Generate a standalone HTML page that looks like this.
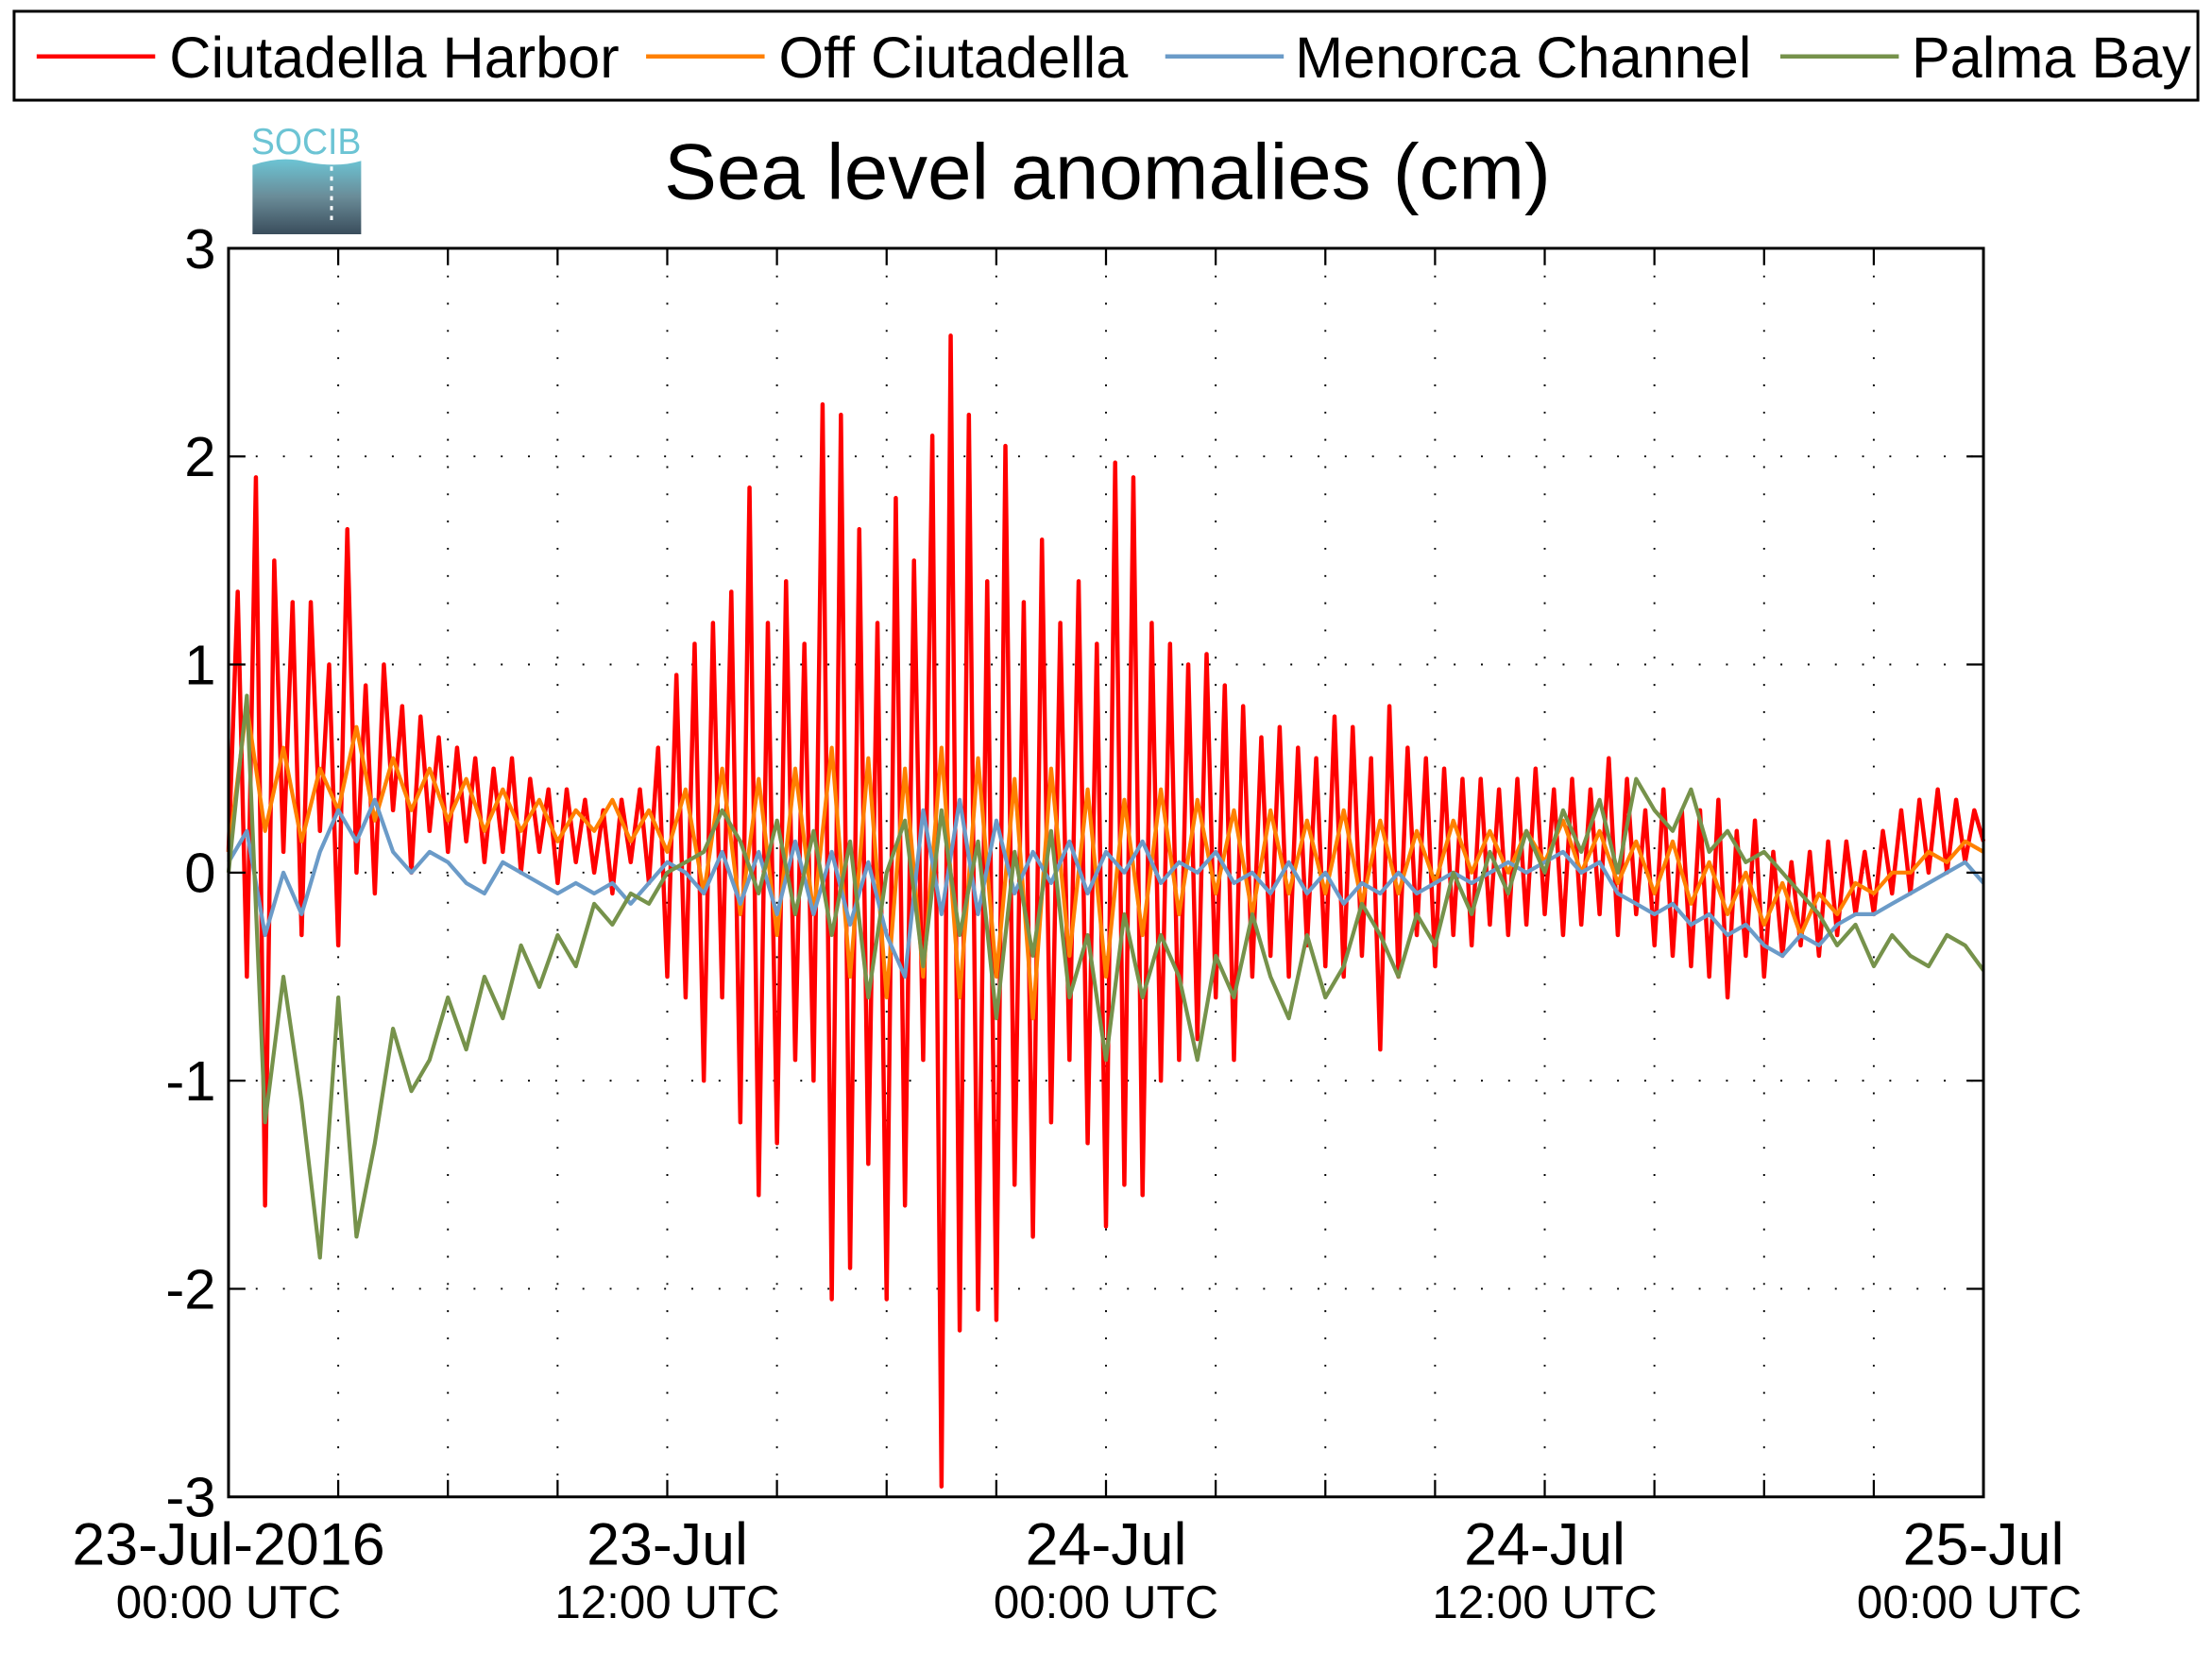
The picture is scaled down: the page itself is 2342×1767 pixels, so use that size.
<!DOCTYPE html>
<html><head><meta charset="utf-8"><style>
html,body{margin:0;padding:0;background:#fff;}
svg{display:block;font-family:"Liberation Sans",sans-serif;}
</style></head><body>
<svg id="chart" width="2342" height="1767" viewBox="0 0 1568 1183" preserveAspectRatio="none" xmlns="http://www.w3.org/2000/svg">
<g>
<rect x="10" y="8" width="1548" height="63" fill="#fff" stroke="#000" stroke-width="2"/>
<line x1="26" y1="40" x2="110" y2="40" stroke="#ff0000" stroke-width="3"/>
<text x="120" y="55" font-size="41">Ciutadella Harbor</text>
<line x1="458" y1="40" x2="542" y2="40" stroke="#ff8000" stroke-width="3"/>
<text x="552" y="55" font-size="41">Off Ciutadella</text>
<line x1="826" y1="40" x2="910" y2="40" stroke="#6b9bc8" stroke-width="3"/>
<text x="918" y="55" font-size="41">Menorca Channel</text>
<line x1="1262" y1="40" x2="1346" y2="40" stroke="#76924b" stroke-width="3"/>
<text x="1355" y="55" font-size="41">Palma Bay</text>
</g>
<g>
<defs><linearGradient id="lg" x1="0" y1="0" x2="0" y2="1"><stop offset="0" stop-color="#6cc4d4"/><stop offset="0.5" stop-color="#6a8c98"/><stop offset="1" stop-color="#3a4d5c"/></linearGradient></defs>
<text x="178" y="109" font-size="26" fill="#6cc4d4" textLength="78" lengthAdjust="spacingAndGlyphs">SOCIB</text>
<path d="M179 117 Q200 110 218 115 Q240 119 256 114 L256 166 L179 166 Z" fill="url(#lg)"/>
<line x1="235" y1="118" x2="235" y2="158" stroke="#fff" stroke-width="2" stroke-dasharray="3,4"/>
</g>
<text x="785" y="141" font-size="56" text-anchor="middle">Sea level anomalies (cm)</text>
<g id="grid"></g>
<g id="series"></g>
<rect x="162" y="176" width="1244" height="885" fill="none" stroke="#000" stroke-width="2"/>
<g id="axes"></g>
</svg>
<script>
const yTicks=[3,2,1,0,-1,-2,-3];
const xLabelHours=[0,12,24,36,48];
const xLabelDates=["23-Jul-2016","23-Jul","24-Jul","24-Jul","25-Jul"];
const xLabelTimes=["00:00 UTC","12:00 UTC","00:00 UTC","12:00 UTC","00:00 UTC"];
const redStep=0.25;
const ciutadellaHarbor=[0.1,1.35,-0.5,1.9,-1.6,1.5,0.1,1.3,-0.3,1.3,0.2,1.0,-0.35,1.65,0.0,0.9,-0.1,1.0,0.3,0.8,0.0,0.75,0.2,0.65,0.1,0.6,0.15,0.55,0.05,0.5,0.1,0.55,0.0,0.45,0.1,0.4,-0.05,0.4,0.05,0.35,0.0,0.3,-0.1,0.35,0.05,0.4,-0.05,0.6,-0.5,0.95,-0.6,1.1,-1.0,1.2,-0.6,1.35,-1.2,1.85,-1.55,1.2,-1.3,1.4,-0.9,1.1,-1.0,2.25,-2.05,2.2,-1.9,1.65,-1.4,1.2,-2.05,1.8,-1.6,1.5,-0.9,2.1,-2.95,2.58,-2.2,2.2,-2.1,1.4,-2.15,2.05,-1.5,1.3,-1.75,1.6,-1.2,1.2,-0.9,1.4,-1.3,1.1,-1.7,1.97,-1.5,1.9,-1.55,1.2,-1.0,1.1,-0.9,1.0,-0.8,1.05,-0.6,0.9,-0.9,0.8,-0.5,0.65,-0.4,0.7,-0.5,0.6,-0.35,0.55,-0.45,0.75,-0.5,0.7,-0.4,0.55,-0.85,0.8,-0.5,0.6,-0.3,0.55,-0.45,0.5,-0.3,0.45,-0.35,0.45,-0.25,0.4,-0.3,0.45,-0.25,0.5,-0.2,0.4,-0.3,0.45,-0.25,0.4,-0.2,0.55,-0.3,0.45,-0.2,0.3,-0.35,0.4,-0.4,0.3,-0.45,0.3,-0.5,0.35,-0.6,0.2,-0.4,0.25,-0.5,0.1,-0.4,0.05,-0.35,0.1,-0.4,0.15,-0.3,0.15,-0.2,0.1,-0.2,0.2,-0.1,0.3,-0.1,0.35,0.0,0.4,0.0,0.35,0.05,0.3,0.15];
const slowStep=0.5;
const offCiutadella=[0.1,0.8,0.2,0.6,0.15,0.5,0.3,0.7,0.25,0.55,0.3,0.5,0.25,0.45,0.2,0.4,0.2,0.35,0.15,0.3,0.2,0.35,0.15,0.3,0.1,0.4,-0.1,0.5,-0.2,0.45,-0.3,0.5,-0.2,0.6,-0.5,0.55,-0.6,0.5,-0.5,0.6,-0.6,0.55,-0.5,0.45,-0.7,0.5,-0.4,0.4,-0.5,0.35,-0.3,0.4,-0.2,0.35,-0.1,0.3,-0.2,0.3,-0.1,0.25,-0.1,0.3,-0.15,0.25,-0.1,0.2,-0.05,0.25,0.0,0.2,0.0,0.2,0.05,0.25,0.0,0.2,-0.05,0.15,-0.1,0.15,-0.15,0.05,-0.2,0.0,-0.25,-0.05,-0.3,-0.1,-0.2,-0.05,-0.1,0.0,0.0,0.1,0.05,0.15,0.1];
const menorcaChannel=[0.05,0.2,-0.3,0.0,-0.2,0.1,0.3,0.15,0.35,0.1,0.0,0.1,0.05,-0.05,-0.1,0.05,0.0,-0.05,-0.1,-0.05,-0.1,-0.05,-0.15,-0.05,0.05,0.0,-0.1,0.1,-0.15,0.1,-0.2,0.15,-0.2,0.1,-0.25,0.05,-0.3,-0.5,0.3,-0.2,0.35,-0.2,0.25,-0.1,0.1,-0.05,0.15,-0.1,0.1,0.0,0.15,-0.05,0.05,0.0,0.1,-0.05,0.0,-0.1,0.05,-0.1,0.0,-0.15,-0.05,-0.1,0.0,-0.1,-0.05,0.0,-0.05,0.0,0.05,0.0,0.05,0.1,0.0,0.05,-0.1,-0.15,-0.2,-0.15,-0.25,-0.2,-0.3,-0.25,-0.35,-0.4,-0.3,-0.35,-0.25,-0.2,-0.2,-0.15,-0.1,-0.05,0.0,0.05,-0.05];
const palmaBay=[0.0,0.85,-1.2,-0.5,-1.1,-1.85,-0.6,-1.75,-1.3,-0.75,-1.05,-0.9,-0.6,-0.85,-0.5,-0.7,-0.35,-0.55,-0.3,-0.45,-0.15,-0.25,-0.1,-0.15,0.0,0.05,0.1,0.3,0.15,-0.1,0.25,-0.2,0.2,-0.3,0.15,-0.6,0.0,0.25,-0.45,0.3,-0.3,0.15,-0.7,0.1,-0.4,0.2,-0.6,-0.3,-0.9,-0.2,-0.6,-0.3,-0.5,-0.9,-0.4,-0.6,-0.2,-0.5,-0.7,-0.3,-0.6,-0.45,-0.15,-0.3,-0.5,-0.2,-0.35,0.0,-0.2,0.1,-0.1,0.2,0.0,0.3,0.1,0.35,0.0,0.45,0.3,0.2,0.4,0.1,0.2,0.05,0.1,0.0,-0.1,-0.2,-0.35,-0.25,-0.45,-0.3,-0.4,-0.45,-0.3,-0.35,-0.47];

const NS="http://www.w3.org/2000/svg";
const L=162,R=1406,T=176,B=1061;
function xScale(h){return L+(h/48)*(R-L);}
function yScale(v){return T+(3-v)/6*(B-T);}
function mk(tag,attrs,parent){const e=document.createElementNS(NS,tag);for(const k in attrs)e.setAttribute(k,attrs[k]);parent.appendChild(e);return e;}
const grid=document.getElementById('grid'),axes=document.getElementById('axes'),series=document.getElementById('series');
for(let h=3;h<48;h+=3){
  const x=xScale(h);
  const g=mk('line',{x1:x,y1:T,x2:x,y2:B,stroke:'#000','stroke-width':1.3,'stroke-dasharray':'1.3,18'},grid);
  
  
  const t1=mk('line',{x1:x,y1:T,x2:x,y2:T+12,stroke:'#000','stroke-width':1.5},axes);
  
  
  const t2=mk('line',{x1:x,y1:B,x2:x,y2:B-12,stroke:'#000','stroke-width':1.5},axes);
  
  
}
yTicks.forEach(v=>{
  const y=yScale(v);
  if(v<3&&v>-3){
    const g=mk('line',{x1:L,y1:y,x2:R,y2:y,stroke:'#000','stroke-width':1.3,'stroke-dasharray':'1.3,18'},grid);
    
    
    mk('line',{x1:L,y1:y,x2:L+12,y2:y,stroke:'#000','stroke-width':1.5},axes);
    mk('line',{x1:R,y1:y,x2:R-12,y2:y,stroke:'#000','stroke-width':1.5},axes);
  }
  const t=mk('text',{x:153,y:y+14,'font-size':40,'text-anchor':'end'},axes);
  t.textContent=String(v);
  
  
});
xLabelHours.forEach((h,i)=>{
  const x=xScale(h);
  const a=mk('text',{x:x,y:1109,'font-size':42,'text-anchor':'middle'},axes);
  a.textContent=xLabelDates[i];
  
  
  const b=mk('text',{x:(i===4?x-10:x),y:1147,'font-size':33,'text-anchor':'middle'},axes);
  b.textContent=xLabelTimes[i];
  
  
});
function line(data,step,color,name,w){
  const d=data.map((v,i)=>(i?'L':'M')+xScale(i*step).toFixed(1)+' '+yScale(v).toFixed(1)).join(' ');
  const p=mk('path',{d:d,fill:'none',stroke:color,'stroke-width':w,'stroke-linejoin':'round'},series);
  
  
}
line(ciutadellaHarbor,redStep,'#ff0000','ciutadella-harbor-line',3);
line(offCiutadella,slowStep,'#ff8000','off-ciutadella-line',2.8);
line(menorcaChannel,slowStep,'#6b9bc8','menorca-channel-line',2.8);
line(palmaBay,slowStep,'#76924b','palma-bay-line',2.8);
</script>
</body></html>
